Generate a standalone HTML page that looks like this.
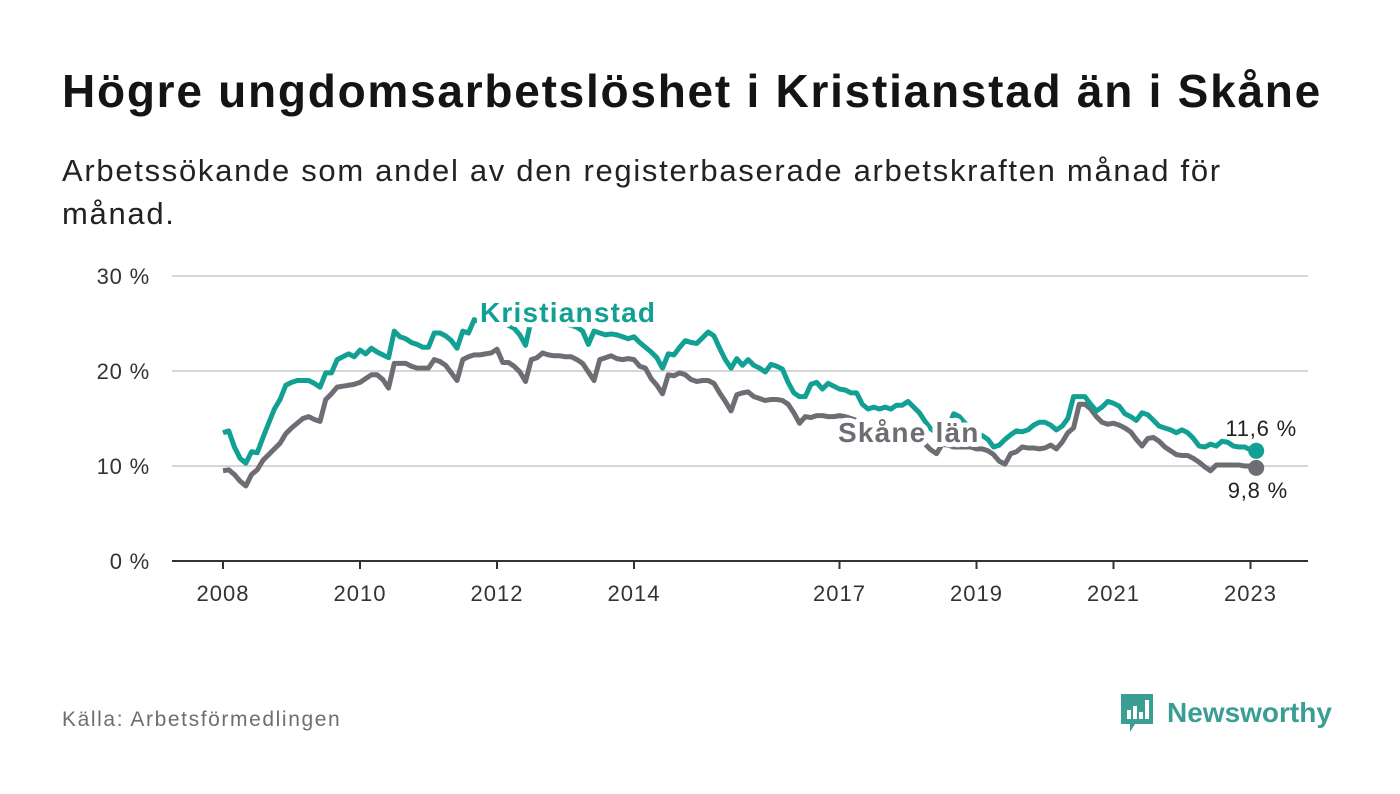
<!DOCTYPE html>
<html><head><meta charset="utf-8">
<style>
body{margin:0;width:1400px;height:794px;background:#fff;font-family:"Liberation Sans",sans-serif;overflow:hidden;position:relative}
h1{position:absolute;left:62px;top:64px;margin:0;font-size:46px;font-weight:bold;color:#141414;letter-spacing:1.75px;white-space:nowrap}
.sub{position:absolute;left:62px;top:149px;font-size:31px;line-height:43px;color:#222;width:1300px;letter-spacing:1.7px;white-space:nowrap}
.src{position:absolute;left:62px;top:708px;font-size:21px;color:#6e6e6e;letter-spacing:1.6px}
svg{position:absolute;left:0;top:0}
</style></head><body>
<h1>Högre ungdomsarbetslöshet i Kristianstad än i Skåne</h1>
<div class="sub">Arbetssökande som andel av den registerbaserade arbetskraften månad för<br>månad.</div>
<div class="src">Källa: Arbetsförmedlingen</div>
<svg id="chart" width="1400" height="794"></svg>
<div style="position:absolute;left:1119px;top:692px;display:flex;align-items:center">
<svg width="36" height="42" style="position:static"><path d="M2 2h32v30H16l-5 8v-8H2z" fill="#3a9e94"/><rect x="8" y="18" width="4" height="9" fill="#fff"/><rect x="14" y="14" width="4" height="13" fill="#fff"/><rect x="20" y="20" width="4" height="7" fill="#fff"/><rect x="26" y="8" width="4" height="19" fill="#fff"/></svg>
<span style="font-size:28px;font-weight:bold;color:#3a9e94;margin-left:12px">Newsworthy</span></div>
<script>
const kristianstad=[13.5,13.7,12,10.8,10.3,11.5,11.4,13,14.5,16,17,18.5,
18.8,19,19,19,18.7,18.3,19.8,19.8,21.2,21.5,21.8,21.5,
22.2,21.8,22.4,22,21.7,21.4,24.2,23.6,23.4,23,22.8,22.5,
22.5,24,24,23.7,23.2,22.4,24.2,24,25.4,25.2,25.5,25.5,
25.5,25.2,24.8,24.5,23.8,22.7,25.4,25.5,25.4,25.3,25.2,25,
25,24.8,24.6,24.2,22.8,24.2,24,23.8,23.9,23.8,23.6,23.4,
23.6,23,22.5,22,21.4,20.3,21.8,21.7,22.5,23.2,23,22.9,
23.5,24.1,23.7,22.4,21.2,20.3,21.3,20.6,21.2,20.6,20.3,19.9,
20.7,20.5,20.2,18.8,17.7,17.3,17.3,18.6,18.8,18.1,18.7,18.4,
18.1,18,17.7,17.7,16.5,16,16.2,16,16.2,16,16.4,16.4,
16.8,16.2,15.6,14.7,13.9,13.5,13.5,14,15.5,15.2,14.5,14,
13.5,13.2,12.8,12,12.2,12.8,13.3,13.7,13.6,13.8,14.3,14.6,
14.6,14.3,13.8,14.2,15,17.3,17.3,17.3,16.5,15.8,16.2,16.8,
16.6,16.3,15.5,15.2,14.8,15.6,15.4,14.8,14.2,14,13.8,13.5,
13.8,13.5,12.9,12.1,12,12.3,12.1,12.6,12.5,12.1,12,12,
11.7,11.6];
const skane=[9.5,9.6,9.1,8.4,7.9,9.1,9.6,10.6,11.2,11.8,12.4,13.4,
14,14.5,15,15.2,14.9,14.7,17,17.6,18.3,18.4,18.5,18.6,
18.8,19.2,19.6,19.6,19.1,18.2,20.8,20.8,20.8,20.5,20.3,20.3,
20.3,21.2,21,20.6,19.8,19,21.2,21.5,21.7,21.7,21.8,21.9,
22.3,20.9,20.9,20.5,19.9,18.9,21.2,21.4,21.9,21.7,21.6,21.6,
21.5,21.5,21.2,20.8,19.9,19,21.2,21.4,21.6,21.3,21.2,21.3,
21.2,20.5,20.3,19.2,18.5,17.6,19.6,19.5,19.8,19.6,19.1,18.9,
19,19,18.7,17.7,16.8,15.8,17.5,17.7,17.8,17.3,17.1,16.9,
17,17,16.9,16.5,15.6,14.5,15.2,15.1,15.3,15.3,15.2,15.2,
15.3,15.2,15,14.8,14.5,14.2,14,13.8,13.5,13.3,13.3,13.1,
13,12.9,12.6,12.3,11.7,11.3,12.3,12.2,12,12,12,12,
11.8,11.8,11.6,11.2,10.5,10.2,11.3,11.5,12,11.9,11.9,11.8,
11.9,12.2,11.8,12.5,13.5,14,16.5,16.5,16,15.2,14.6,14.4,
14.5,14.3,14,13.6,12.8,12.1,12.9,13,12.6,12,11.6,11.2,
11.1,11.1,10.8,10.4,9.9,9.5,10.1,10.1,10.1,10.1,10.1,10,
10,9.8];
const yTicks=[0,10,20,30];
const xTickYears=[2008,2010,2012,2014,2017,2019,2021,2023];
const ns="http://www.w3.org/2000/svg";
const svg=document.getElementById('chart');
const x=i=>223+i*(68.5/12);
const xYear=yr=>223+(yr-2008)*68.5;
const y=v=>561-v*9.5;
function mk(t,a){const e=document.createElementNS(ns,t);for(const k in a)e.setAttribute(k,a[k]);svg.appendChild(e);return e;}
yTicks.forEach(t=>{
 if(t>0){const g=mk('line',{x1:172,x2:1308,y1:y(t),y2:y(t),stroke:'#d6d6d6','stroke-width':2});
 
 }
 const l=mk('text',{x:150,y:y(t)+8,'text-anchor':'end','font-size':22,'letter-spacing':0.8,fill:'#333','font-family':'Liberation Sans,sans-serif'});
 l.textContent=t+' %';
 
 
});
const ax=mk('line',{x1:172,x2:1308,y1:561,y2:561,stroke:'#333','stroke-width':2});


xTickYears.forEach(yr=>{
 const tk=mk('line',{x1:xYear(yr),x2:xYear(yr),y1:561,y2:569,stroke:'#333','stroke-width':2});
 
 
 const l=mk('text',{x:xYear(yr),y:601,'text-anchor':'middle','font-size':22,'letter-spacing':1,fill:'#333','font-family':'Liberation Sans,sans-serif'});
 l.textContent=yr;
 
 
});
function series(arr,col,name){
 const p=mk('polyline',{points:arr.map((v,i)=>x(i)+','+y(v)).join(' '),fill:'none',stroke:col,'stroke-width':5,'stroke-linejoin':'round'});
 
 
 const n=arr.length-1;
 const c=mk('circle',{cx:x(n),cy:y(arr[n]),r:8,fill:col});
 
 
}
series(skane,'#6e6d73','skane');
series(kristianstad,'#11a093','kristianstad');
function lab(txt,xx,yy,col,bold,name,anchor){
 const t=mk('text',{x:xx,y:yy,'font-size':bold?28:22,'letter-spacing':bold?1.2:0.8,'font-weight':bold?'bold':'normal',fill:col,stroke:'#fff','stroke-width':bold?10:6,'paint-order':'stroke','stroke-linejoin':'round','text-anchor':anchor||'start','font-family':'Liberation Sans,sans-serif'});
 t.textContent=txt;
 
 
}
lab('Kristianstad',480,322,'#11a093',true,'kristianstad-label');
lab('Skåne län',838,442,'#6e6d73',true,'skane-label');
lab('11,6 %',1297,436,'#222',false,'kristianstad-end-value','end');
lab('9,8 %',1288,498,'#222',false,'skane-end-value','end');
</script>
</body></html>
